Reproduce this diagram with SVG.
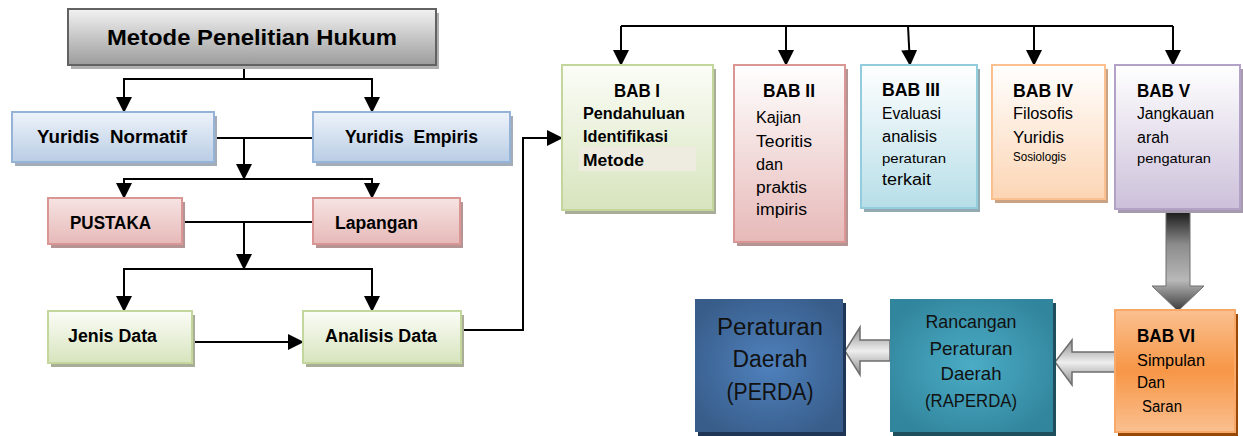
<svg xmlns="http://www.w3.org/2000/svg" width="1243" height="436" viewBox="0 0 1243 436">
<defs>
<linearGradient id="gGray" x1="0" y1="0" x2="0" y2="1"><stop offset="0" stop-color="#f2f2f2"/><stop offset="1" stop-color="#9c9c9c"/></linearGradient>
<linearGradient id="gBlue" x1="0" y1="0" x2="0" y2="1"><stop offset="0" stop-color="#eef3fa"/><stop offset="1" stop-color="#b9cde5"/></linearGradient>
<linearGradient id="gPink" x1="0" y1="0" x2="0" y2="1"><stop offset="0" stop-color="#f6e4e3"/><stop offset="1" stop-color="#e6b9b8"/></linearGradient>
<linearGradient id="gGreen" x1="0" y1="0" x2="0" y2="1"><stop offset="0" stop-color="#fbfdf7"/><stop offset="1" stop-color="#d7e4bd"/></linearGradient>
<linearGradient id="gPinkW" x1="0" y1="0" x2="0" y2="1"><stop offset="0" stop-color="#ffffff"/><stop offset="1" stop-color="#e6b9b8"/></linearGradient>
<linearGradient id="gAqua" x1="0" y1="0" x2="0" y2="1"><stop offset="0" stop-color="#ffffff"/><stop offset="1" stop-color="#b7dee8"/></linearGradient>
<linearGradient id="gOrgW" x1="0" y1="0" x2="0" y2="1"><stop offset="0" stop-color="#ffffff"/><stop offset="1" stop-color="#fcd5b4"/></linearGradient>
<linearGradient id="gPurp" x1="0" y1="0" x2="0" y2="1"><stop offset="0" stop-color="#ffffff"/><stop offset="1" stop-color="#ccc0da"/></linearGradient>
<linearGradient id="gOrg" x1="0" y1="0" x2="0" y2="1"><stop offset="0" stop-color="#fac090"/><stop offset="0.5" stop-color="#f79646"/><stop offset="1" stop-color="#fac090"/></linearGradient>
<radialGradient id="gNavy" cx="0.5" cy="0.5" r="0.6"><stop offset="0" stop-color="#4f81bd"/><stop offset="1" stop-color="#385d8a"/></radialGradient>
<radialGradient id="gTeal" cx="0.5" cy="0.5" r="0.6"><stop offset="0" stop-color="#4bacc6"/><stop offset="1" stop-color="#31859c"/></radialGradient>
<linearGradient id="gDown" x1="0" y1="0" x2="0" y2="1"><stop offset="0" stop-color="#111111"/><stop offset="0.35" stop-color="#8c8c8c"/><stop offset="0.7" stop-color="#b8b8b8"/><stop offset="1" stop-color="#3a3a3a"/></linearGradient>
<linearGradient id="gLeft" x1="0" y1="0" x2="0" y2="1"><stop offset="0" stop-color="#8c8c8c"/><stop offset="0.5" stop-color="#eeeeee"/><stop offset="1" stop-color="#8c8c8c"/></linearGradient>
<marker id="ah" markerUnits="userSpaceOnUse" markerWidth="16" markerHeight="16" refX="15" refY="8" orient="auto"><path d="M0,0 L16,8 L0,16 z" fill="#000"/></marker>
<style>
text{font-family:"Liberation Sans",Arial,sans-serif;fill:#000}
.b{font-weight:bold}
.t{font-size:21.5px}
.l{font-size:17.5px}
.h{font-size:18.5px}
.m{font-size:16px}
.s{font-size:13px}
.p{font-size:23px;fill:#111}
.r{font-size:18.5px;fill:#111}
.con{fill:none;stroke:#000;stroke-width:2}
</style>
</defs>

<g id="connectors">
<path class="con" d="M244,65 V79 H124 V112" marker-end="url(#ah)"/>
<path class="con" d="M244,79 H372 V112" marker-end="url(#ah)"/>
<path class="con" d="M214,138 H313"/>
<path class="con" d="M244,138 V179" marker-end="url(#ah)"/>
<path class="con" d="M244,179 H124 V198" marker-end="url(#ah)"/>
<path class="con" d="M244,179 H372 V198" marker-end="url(#ah)"/>
<path class="con" d="M182,222 H313"/>
<path class="con" d="M244,222 V269" marker-end="url(#ah)"/>
<path class="con" d="M244,269 H124 V311" marker-end="url(#ah)"/>
<path class="con" d="M244,269 H372 V311" marker-end="url(#ah)"/>
<path class="con" d="M192,342 H303" marker-end="url(#ah)"/>
<path class="con" d="M461,330 H523 V138 H562" marker-end="url(#ah)"/>
<path class="con" d="M621,26 H1173"/>
<path class="con" d="M621,26 V65" marker-end="url(#ah)"/>
<path class="con" d="M786,26 V65" marker-end="url(#ah)"/>
<path class="con" d="M908,26 L910,65" marker-end="url(#ah)"/>
<path class="con" d="M1034,26 V65" marker-end="url(#ah)"/>
<path class="con" d="M1173,26 V65" marker-end="url(#ah)"/>
<polygon points="1166,209 1190,209 1190,286 1204,286 1178,311 1152,286 1166,286" fill="url(#gDown)" stroke="#6e6e6e" stroke-width="1"/>
<polygon points="1115,352 1072,352 1072,340 1055,362 1072,385 1072,372 1115,372" fill="url(#gLeft)" stroke="#6e6e6e" stroke-width="1.5"/>
<polygon points="890,340 860,340 860,327 845,351 860,375 860,361 890,361" fill="url(#gLeft)" stroke="#6e6e6e" stroke-width="1.5"/>
</g>

<g id="title">
<rect x="71" y="13" width="368" height="56" fill="#b0b0b0"/>
<rect x="68" y="9" width="368" height="56" fill="url(#gGray)" stroke="#626262" stroke-width="2"/>
<text class="b t" x="107" y="45" textLength="290" lengthAdjust="spacingAndGlyphs">Metode Penelitian Hukum</text>
</g>

<g id="yuridis-normatif">
<rect x="15" y="116" width="202" height="50" fill="#a3acb9"/>
<rect x="12" y="112" width="202" height="50" fill="url(#gBlue)" stroke="#95b3d7" stroke-width="2"/>
<text class="b l" x="37" y="143" xml:space="preserve" textLength="150" lengthAdjust="spacingAndGlyphs">Yuridis  Normatif</text>
</g>

<g id="yuridis-empiris">
<rect x="316" y="116" width="197" height="50" fill="#a3acb9"/>
<rect x="313" y="112" width="197" height="50" fill="url(#gBlue)" stroke="#95b3d7" stroke-width="2"/>
<text class="b l" x="345" y="143" xml:space="preserve" textLength="133" lengthAdjust="spacingAndGlyphs">Yuridis  Empiris</text>
</g>

<g id="pustaka">
<rect x="51" y="202" width="134" height="46" fill="#b59494"/>
<rect x="48" y="198" width="134" height="46" fill="url(#gPink)" stroke="#d99694" stroke-width="2"/>
<text class="b l" x="70" y="229" textLength="81" lengthAdjust="spacingAndGlyphs">PUSTAKA</text>
</g>

<g id="lapangan">
<rect x="316" y="202" width="147" height="46" fill="#b59494"/>
<rect x="313" y="198" width="147" height="46" fill="url(#gPink)" stroke="#d99694" stroke-width="2"/>
<text class="b l" x="335" y="229" textLength="83" lengthAdjust="spacingAndGlyphs">Lapangan</text>
</g>

<g id="jenis-data">
<rect x="51" y="315" width="144" height="52" fill="#a9ad98"/>
<rect x="48" y="311" width="144" height="52" fill="url(#gGreen)" stroke="#c3d69b" stroke-width="2"/>
<text class="b l" x="68" y="342" textLength="89" lengthAdjust="spacingAndGlyphs">Jenis Data</text>
</g>

<g id="analisis-data">
<rect x="306" y="315" width="158" height="52" fill="#a9ad98"/>
<rect x="303" y="311" width="158" height="52" fill="url(#gGreen)" stroke="#c3d69b" stroke-width="2"/>
<text class="b l" x="325" y="342" textLength="112" lengthAdjust="spacingAndGlyphs">Analisis Data</text>
</g>

<g id="bab1">
<rect x="565" y="69" width="151" height="145" fill="#a9ad98"/>
<rect x="562" y="65" width="151" height="145" fill="url(#gGreen)" stroke="#c3d69b" stroke-width="2"/>
<rect x="579" y="147" width="117" height="24" fill="#eeece1"/>
<text class="b h" x="614" y="97" textLength="46" lengthAdjust="spacingAndGlyphs">BAB I</text>
<text class="b m" x="583" y="119" textLength="102" lengthAdjust="spacingAndGlyphs">Pendahuluan</text>
<text class="b m" x="583" y="142" textLength="85" lengthAdjust="spacingAndGlyphs">Identifikasi</text>
<text class="b m" x="583" y="166" textLength="61" lengthAdjust="spacingAndGlyphs">Metode</text>
</g>

<g id="bab2">
<rect x="737" y="69" width="111" height="177" fill="#b59494"/>
<rect x="734" y="65" width="111" height="177" fill="url(#gPinkW)" stroke="#d99694" stroke-width="2"/>
<text class="b h" x="763" y="97" textLength="52" lengthAdjust="spacingAndGlyphs">BAB II</text>
<text class="m" x="756" y="123" textLength="45" lengthAdjust="spacingAndGlyphs">Kajian</text>
<text class="m" x="756" y="147" textLength="56" lengthAdjust="spacingAndGlyphs">Teoritis</text>
<text class="m" x="756" y="170" textLength="27" lengthAdjust="spacingAndGlyphs">dan</text>
<text class="m" x="756" y="193" textLength="51" lengthAdjust="spacingAndGlyphs">praktis</text>
<text class="m" x="756" y="215" textLength="51" lengthAdjust="spacingAndGlyphs">impiris</text>
</g>

<g id="bab3">
<rect x="864" y="69" width="116" height="143" fill="#92aab0"/>
<rect x="861" y="65" width="116" height="143" fill="url(#gAqua)" stroke="#93cddd" stroke-width="2"/>
<text class="b h" x="882" y="96" textLength="58" lengthAdjust="spacingAndGlyphs">BAB III</text>
<text class="m" x="882" y="119" textLength="59" lengthAdjust="spacingAndGlyphs">Evaluasi</text>
<text class="m" x="882" y="142" textLength="55" lengthAdjust="spacingAndGlyphs">analisis</text>
<text class="s" x="882" y="163" textLength="64" lengthAdjust="spacingAndGlyphs">peraturan</text>
<text class="m" x="882" y="185" textLength="49" lengthAdjust="spacingAndGlyphs">terkait</text>
</g>

<g id="bab4">
<rect x="995" y="69" width="113" height="134" fill="#c9a384"/>
<rect x="992" y="65" width="113" height="134" fill="url(#gOrgW)" stroke="#fac090" stroke-width="2"/>
<text class="b h" x="1013" y="97" textLength="60" lengthAdjust="spacingAndGlyphs">BAB IV</text>
<text class="m" x="1013" y="119" textLength="60" lengthAdjust="spacingAndGlyphs">Filosofis</text>
<text class="m" x="1013" y="143" textLength="51" lengthAdjust="spacingAndGlyphs">Yuridis</text>
<text x="1013" y="161" style="font-size:12px" textLength="53" lengthAdjust="spacingAndGlyphs">Sosiologis</text>
</g>

<g id="bab5">
<rect x="1118" y="69" width="125" height="144" fill="#a59aae"/>
<rect x="1115" y="65" width="125" height="144" fill="url(#gPurp)" stroke="#b3a2c7" stroke-width="2"/>
<text class="b h" x="1137" y="97" textLength="53" lengthAdjust="spacingAndGlyphs">BAB V</text>
<text class="m" x="1137" y="119" textLength="77" lengthAdjust="spacingAndGlyphs">Jangkauan</text>
<text class="m" x="1137" y="143" textLength="32" lengthAdjust="spacingAndGlyphs">arah</text>
<text x="1137" y="163" style="font-size:13.5px" textLength="74" lengthAdjust="spacingAndGlyphs">pengaturan</text>
</g>

<g id="bab6">
<rect x="1118" y="314" width="120" height="122" fill="#984807"/>
<rect x="1115" y="310" width="120" height="122" fill="url(#gOrg)" stroke="#f9a868" stroke-width="2"/>
<text class="b h" x="1137" y="342" textLength="58" lengthAdjust="spacingAndGlyphs">BAB VI</text>
<text class="m" x="1137" y="366" textLength="68" lengthAdjust="spacingAndGlyphs">Simpulan</text>
<text class="m" x="1137" y="388" textLength="28" lengthAdjust="spacingAndGlyphs">Dan</text>
<text class="m" x="1142" y="412" textLength="40" lengthAdjust="spacingAndGlyphs">Saran</text>
</g>

<g id="raperda">
<rect x="893" y="303" width="163" height="133" fill="#1f4f5c"/>
<rect x="890" y="299" width="163" height="133" fill="url(#gTeal)"/>
<g text-anchor="middle">
<text class="r" x="971" y="328" textLength="91" lengthAdjust="spacingAndGlyphs">Rancangan</text>
<text class="r" x="971" y="355" textLength="83" lengthAdjust="spacingAndGlyphs">Peraturan</text>
<text class="r" x="971" y="380" textLength="61" lengthAdjust="spacingAndGlyphs">Daerah</text>
<text class="r" x="971" y="407" textLength="92" lengthAdjust="spacingAndGlyphs">(RAPERDA)</text>
</g>
</g>

<g id="perda">
<rect x="698" y="303" width="148" height="133" fill="#1f3656"/>
<rect x="695" y="299" width="148" height="133" fill="url(#gNavy)"/>
<g text-anchor="middle">
<text class="p" x="770" y="335" textLength="106" lengthAdjust="spacingAndGlyphs">Peraturan</text>
<text class="p" x="770" y="367" textLength="75" lengthAdjust="spacingAndGlyphs">Daerah</text>
<text class="p" x="770" y="400" textLength="87" lengthAdjust="spacingAndGlyphs">(PERDA)</text>
</g>
</g>
</svg>
